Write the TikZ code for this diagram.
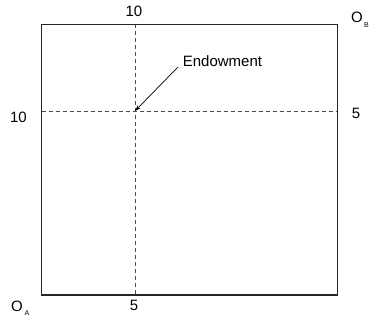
\documentclass[tikz,border=0pt]{standalone}
\usepackage{fontspec}
\setmainfont{Liberation Sans}
\usetikzlibrary{arrows.meta}
\begin{document}
\begin{tikzpicture}[x=1pt,y=-1pt,
  lbl/.style={inner sep=0pt,font=\fontsize{15}{17}\selectfont},
  boxline/.style={draw=black!85,line width=1.1pt},
  dashline/.style={draw=black!70,line width=0.9pt,dash pattern=on 4pt off 3pt},
  subs/.style={inner sep=0pt,font=\fontsize{7}{8}\selectfont}]
\useasboundingbox (0,0) rectangle (370,323);
\coordinate (bl) at (41.5,295);
\coordinate (tr) at (337.5,24.5);
\coordinate (vtop) at (135,24.5);
\coordinate (vbot) at (135,295);
\coordinate (hl) at (41.5,111);
\coordinate (hr) at (337.5,111);
\coordinate (endow) at (135,111);
\draw[dashline] (vtop) -- (vbot);
\draw[dashline] (hl) -- (hr);
\draw[boxline] (bl) rectangle (tr);
\node[lbl] (ttop) at (134,11) {10};
\node[lbl] (tbot) at (134,305.5) {5};
\node[lbl] (tleft) at (18.5,117.5) {10};
\node[lbl] (tright) at (356,113) {5};
\node[lbl] (oa) at (17,306) {O};
\node[subs] (oasub) at (27,313) {A};
\node[lbl] (ob) at (357,17.5) {O};
\node[subs] (obsub) at (366.5,25) {B};
\node[lbl] (endlbl) at (222.5,61) {Endowment};
\coordinate (astart) at (178,67);
\draw[line width=0.7pt,-{Stealth[length=6pt,width=4pt]}] (astart) -- (endow);
\end{tikzpicture}
\end{document}
